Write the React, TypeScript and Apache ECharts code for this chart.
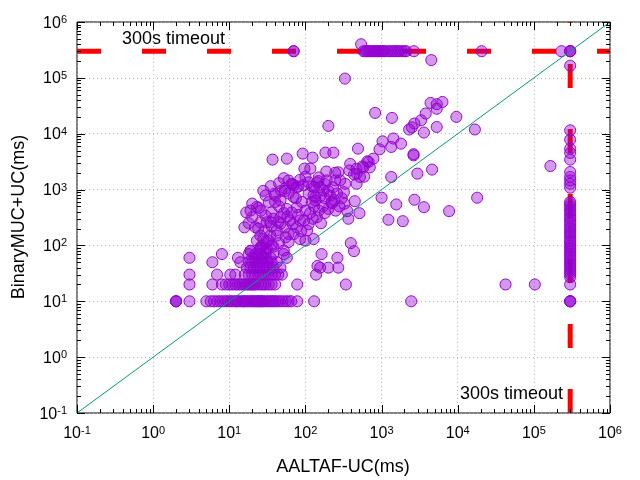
import React, { useEffect, useRef } from "react";
import * as echarts from "echarts";

const FONT = '"Liberation Sans", Arial, sans-serif';
const TIMEOUT = 300000;
const AXIS_MIN = 0.1;
const AXIS_MAX = 1000000;

const majorTicks = [0.1, 1, 10, 100, 1000, 10000, 100000, 1000000];
const minorMultipliers = [2, 3, 4, 5, 6, 7, 8, 9];

const diagonalLine = [[0.1, 0.1], [1000000, 1000000]];
const timeoutLineH = [[0.1, TIMEOUT], [1000000, TIMEOUT]];
const timeoutLineV = [[TIMEOUT, 0.1], [TIMEOUT, 1000000]];

// rows of points at fixed BinaryMUC+UC values
const row10X = [2, 2, 2, 3, 5, 5.7, 6.3, 7, 7.6, 8.3, 9, 9.7, 10.5, 11, 12, 12.5, 13, 14, 15, 15.5, 16, 17, 18, 19, 20, 21, 22, 23, 24, 25, 26, 27, 28, 30, 32, 34, 36, 38, 40, 43, 46, 50, 55, 60, 65, 78, 130, 2450, 300000, 300000, 300000];
const row20X = [3, 6, 8, 9, 10, 11, 12, 13, 14, 15, 16, 17, 18, 19, 20, 21, 22, 24, 26, 28, 30, 33, 36, 40, 78, 340, 42500, 103000];
const row30X = [3, 6.9, 10.3, 12, 16, 18, 20, 22, 24, 26, 28, 30, 33, 36, 40, 44, 49, 138];
const row40X = [17, 19, 21, 23, 25, 28, 31, 34, 38, 47, 156, 200, 270];
const row50X = [6, 14, 18, 20, 22, 25, 28, 32, 36, 42];
const row60X = [3, 13, 20, 22, 24, 27, 30, 35, 57, 263];
const row70X = [8, 18, 22, 26, 30, 38, 52, 163];

// points on the 300s timeout lines
const timeoutRowX = [70, 70, 580, 610, 640, 670, 700, 740, 780, 820, 860, 900, 950, 1000, 1050, 1100, 1200, 1300, 1400, 1500, 1600, 1700, 1850, 2000, 2100, 2660, 20600, 230000];
const timeoutColY = [20, 27, 30, 33, 36, 40, 44, 48, 53, 58, 64, 70, 77, 85, 93, 100, 110, 120, 135, 150, 165, 180, 200, 220, 245, 270, 300, 330, 370, 410, 450, 500, 550, 600, 1080, 1270, 1460, 1680, 2060, 3440, 4520, 5400, 7800, 11500, 165000, 300000, 300000, 300000];

const clusterLow = [
  [19, 80], [25.6, 92], [27, 100], [31, 114], [33, 122], [23, 122], [28, 130], [38, 95], [45, 110], [60, 115],
  [85, 130], [100, 122], [128, 130], [25.6, 150], [34.6, 150], [42, 150], [55, 140], [60, 160], [70, 160], [29, 180],
  [42, 185], [88, 180], [105, 185], [15.8, 211], [22, 211], [54, 211], [77, 211], [24, 200], [18, 250], [25.6, 260],
  [31, 260], [34.6, 260], [47, 245], [36, 220], [44, 260], [68, 240], [110, 240], [160, 250], [63, 280], [85, 280],
  [96, 280], [125, 300], [20, 320], [47, 320], [38, 300], [30, 340], [58, 330], [80, 350], [141, 320], [16.7, 390],
  [36, 390], [66, 390], [19, 420], [26, 420], [52, 380], [115, 380], [180, 380], [100, 420], [150, 420], [57, 450],
  [45, 500], [23, 490], [24.4, 470], [77, 480], [130, 500], [170, 500], [200, 450], [250, 420], [20, 560], [33, 600],
  [40, 600], [122, 600], [90, 600], [47, 640], [135, 640], [222, 600], [222, 570], [240, 650], [70, 730], [75, 700],
  [135, 730], [180, 700], [30, 785], [40, 785], [128, 785], [159, 785], [210, 780], [39, 840], [60, 850], [110, 840],
  [260, 850], [48, 950], [54, 940], [28, 950], [172, 970], [200, 950], [325, 557], [445, 620], [355, 411], [366, 300],
  [512, 378], [280, 500], [300, 700], [320, 900], [52, 81], [144, 43], [26, 90], [31, 90], [36, 100], [19, 80],
  [25, 80], [30, 80], [434, 79], [394, 110]
];

const clusterHigh = [
  [54, 1040], [77, 1100], [122, 1140], [130, 1100], [156, 1100], [230, 1100], [35, 1150], [81, 1140], [67, 1240], [66, 1270],
  [70, 1200], [94, 1200], [180, 1250], [333, 1270], [470, 1270], [45, 1300], [110, 1350], [141, 1340], [148, 1420], [190, 1460],
  [246, 1460], [286, 1460], [60, 1450], [85, 1500], [52, 1600], [150, 1650], [100, 1700], [520, 1680], [590, 1700], [435, 1870],
  [470, 1930], [246, 2000], [270, 2040], [188, 2100], [378, 2200], [97, 2370], [116, 2370], [470, 2370], [560, 2600], [577, 2500],
  [700, 2500], [387, 2880], [650, 3200], [675, 3130], [37, 3440], [57, 3580], [780, 3580], [124, 3730], [92, 4400], [183, 4580],
  [233, 4580], [490, 5400], [940, 5260]
];

const rightMid = [
  [1030, 7300], [1430, 8200], [1800, 6650], [1340, 5800], [2630, 4100], [2630, 4300], [1340, 1680], [2950, 1930], [4600, 2280],
  [1000, 715], [1560, 542], [2700, 658], [3600, 484], [7700, 411], [1230, 288], [1900, 272], [18000, 715], [165000, 2640]
];

const highPts = [
  [330, 97000], [822, 23600], [1370, 19200], [4400, 35600], [5300, 33800], [6300, 37000], [5300, 28000], [3800, 23000],
  [9600, 20000], [3300, 17400], [2700, 15200], [2300, 11900], [2500, 13000], [3600, 10500], [5300, 13200], [16800, 11900],
  [200, 13800], [4500, 208000], [538, 400000]
];

function buildPoints() {
  const pts: number[][] = [];
  const rows: [number[], number][] = [
    [row10X, 10], [row20X, 20], [row30X, 30], [row40X, 40], [row50X, 50], [row60X, 60], [row70X, 70],
  ];
  rows.forEach(([xs, y]) => xs.forEach((x) => pts.push([x, y])));
  timeoutRowX.forEach((x) => pts.push([x, TIMEOUT]));
  timeoutColY.forEach((y) => pts.push([TIMEOUT, y]));
  [clusterLow, clusterHigh, rightMid, highPts].forEach((g) => g.forEach((p) => pts.push(p)));
  return pts;
}

function tickData() {
  const items: number[][] = [];
  majorTicks.forEach((t) => items.push([t, 8]));
  majorTicks.slice(0, -1).forEach((t) => minorMultipliers.forEach((m) => items.push([t * m, 4])));
  return items;
}

const supLabel = (v: number) => {
  const e = Math.round(Math.log10(v));
  return `{b|10}{s|${e}}`;
};

const richLabel = {
  b: { fontSize: 16, fontFamily: FONT, color: "#000" },
  s: { fontSize: 11, fontFamily: FONT, color: "#000", verticalAlign: "top", padding: [0, 0, 6, 0] },
};

export default function App() {
  const ref = useRef<HTMLDivElement>(null);
  useEffect(() => {
    if (!ref.current) return;
    const chart = echarts.init(ref.current, undefined, { renderer: "svg" });
    const ticks = tickData();
    const splitLine = { show: true, lineStyle: { color: "#b4b4b4", type: [1, 3], width: 1 } };
    const option: any = {
      animation: false,
      textStyle: { fontFamily: FONT },
      grid: { left: 77, right: 30, top: 22, bottom: 67, show: true, borderColor: "#000", borderWidth: 1, backgroundColor: "transparent" },
      xAxis: {
        type: "log", logBase: 10, min: AXIS_MIN, max: AXIS_MAX, splitNumber: 7,
        axisLine: { show: false }, axisTick: { show: false },
        axisLabel: { margin: 11, formatter: supLabel, rich: richLabel, showMinLabel: true, showMaxLabel: true },
        splitLine,
      },
      yAxis: {
        type: "log", logBase: 10, min: AXIS_MIN, max: AXIS_MAX, splitNumber: 7,
        axisLine: { show: false }, axisTick: { show: false },
        axisLabel: { margin: 10, formatter: supLabel, rich: richLabel, showMinLabel: true, showMaxLabel: true },
        splitLine,
      },
      graphic: [
        { type: "text", x: 343, y: 466, style: { text: "AALTAF-UC(ms)", font: `18px ${FONT}`, fill: "#000", align: "center", verticalAlign: "middle" } },
        { type: "text", x: 18, y: 217, rotation: Math.PI / 2, style: { text: "BinaryMUC+UC(ms)", font: `18px ${FONT}`, fill: "#000", align: "center", verticalAlign: "middle" } },
        { type: "text", x: 122, y: 38, style: { text: "300s timeout", font: `18px ${FONT}`, fill: "#000", align: "left", verticalAlign: "middle" } },
        { type: "text", x: 563, y: 393, style: { text: "300s timeout", font: `18px ${FONT}`, fill: "#000", align: "right", verticalAlign: "middle" } },
      ],
      series: [
        {
          type: "line", data: timeoutLineH, symbol: "none", z: 1, silent: true,
          lineStyle: { color: "#ff0000", width: 5, type: [24, 41], cap: "butt" },
        },
        {
          type: "line", data: timeoutLineV, symbol: "none", z: 1, silent: true,
          lineStyle: { color: "#ff0000", width: 5, type: [24, 41], cap: "butt" },
        },
        {
          type: "scatter", data: buildPoints(), symbol: "circle", symbolSize: 11, z: 2, silent: true,
          itemStyle: { color: "rgba(148,0,211,0.4)", borderColor: "#9400d3", borderWidth: 1, opacity: 1 },
        },
        {
          type: "line", data: diagonalLine, symbol: "none", z: 3, silent: true,
          lineStyle: { color: "#009e73", width: 1 },
        },
        {
          type: "custom", data: ticks.map((t) => [t[0], 1, t[1]]), z: 4, silent: true, clip: false,
          renderItem: (params: any, api: any) => {
            const cs = params.coordSys;
            const p = api.coord([api.value(0), 1]);
            const len = api.value(2);
            const x = Math.round(p[0]) + 0.5;
            const top = cs.y, bottom = cs.y + cs.height;
            return {
              type: "group",
              children: [
                { type: "line", shape: { x1: x, y1: bottom, x2: x, y2: bottom - len }, style: { stroke: "#000", lineWidth: 1 } },
                { type: "line", shape: { x1: x, y1: top, x2: x, y2: top + len }, style: { stroke: "#000", lineWidth: 1 } },
              ],
            };
          },
        },
        {
          type: "custom", data: ticks.map((t) => [1, t[0], t[1]]), z: 4, silent: true, clip: false,
          renderItem: (params: any, api: any) => {
            const cs = params.coordSys;
            const p = api.coord([1, api.value(1)]);
            const len = api.value(2);
            const y = Math.round(p[1]) + 0.5;
            const left = cs.x, right = cs.x + cs.width;
            return {
              type: "group",
              children: [
                { type: "line", shape: { x1: left, y1: y, x2: left + len, y2: y }, style: { stroke: "#000", lineWidth: 1 } },
                { type: "line", shape: { x1: right, y1: y, x2: right - len, y2: y }, style: { stroke: "#000", lineWidth: 1 } },
              ],
            };
          },
        },
      ],
    };
    chart.setOption(option);
    return () => chart.dispose();
  }, []);
  return <div ref={ref} style={{ position: "fixed", left: 0, top: 0, width: 640, height: 480 }} />;
}
